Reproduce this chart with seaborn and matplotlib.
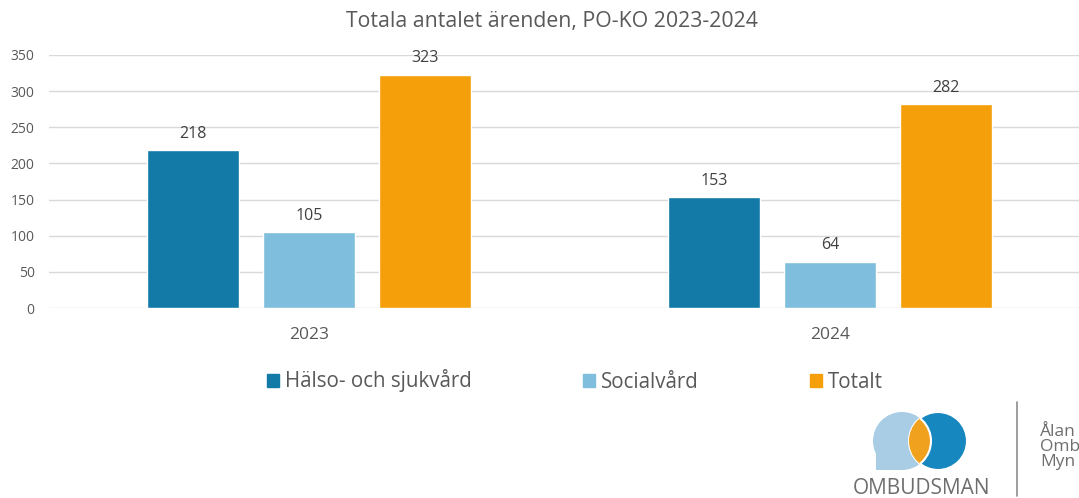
import matplotlib
matplotlib.use("Agg")
import matplotlib.pyplot as plt
import matplotlib.patches as mpatches
import numpy as np
import pandas as pd
import seaborn as sns

years = ["2023", "2024"]
categories = ["Hälso- och sjukvård", "Socialvård", "Totalt"]
halso = [218, 153]
social = [105, 64]
totalt = [323, 282]
yticks = [0, 50, 100, 150, 200, 250, 300, 350]

colors = ["#137AA8", "#7FBEDC", "#F59F0B"]
txt = "#595959"

df = pd.DataFrame({
    "year": years * 3,
    "category": [categories[0]] * 2 + [categories[1]] * 2 + [categories[2]] * 2,
    "value": halso + social + totalt,
})

sns.set_theme(style="white")
plt.rcParams["font.family"] = ["Open Sans", "DejaVu Sans"]

W, H = 1079, 498
fig = plt.figure(figsize=(W / 100, H / 100), dpi=100)
ax = fig.add_axes([48.5 / W, (H - 308) / H, 1042 / W, 253 / H])

sns.barplot(data=df, x="year", y="value", hue="category", palette=colors,
            width=0.668, gap=0.215, ax=ax, legend=False, saturation=1)

for c in ax.containers:
    ax.bar_label(c, padding=6, fontsize=11.5, color="#404040")

ax.set_ylim(0, 350)
ax.set_xlim(-0.5, 1.5)
ax.set_yticks(yticks)
ax.yaxis.grid(True, color="#D9D9D9", linewidth=1)
ax.set_axisbelow(True)
for s in ax.spines.values():
    s.set_visible(False)
ax.tick_params(axis="y", length=0, pad=10, labelsize=10, labelcolor=txt)
ax.tick_params(axis="x", length=0, pad=14, labelsize=12.5, labelcolor=txt)
ax.set_xlabel("")
ax.set_ylabel("")

fig.text(552 / W, 1 - 22 / H, "Totala antalet ärenden, PO-KO 2023-2024",
         ha="center", va="center", fontsize=15.3, color=txt)

handles = [mpatches.Patch(color=c) for c in colors]
fig.legend(handles, categories, loc="center", bbox_to_anchor=(575 / W, 1 - 381 / H),
           ncol=3, frameon=False, fontsize=14.8, handlelength=0.6, handleheight=0.6,
           handletextpad=0.28, columnspacing=5.4, labelcolor=txt)

# logo
lax = fig.add_axes([0, 0, 1, 1])
lax.set_xlim(0, W)
lax.set_ylim(H, 0)
lax.axis("off")
light = "#A8CDE4"
dark = "#1787BF"
lax.add_patch(mpatches.Circle((902, 441), 29, color=light, lw=0))
lax.add_patch(mpatches.Rectangle((876, 441), 26, 29, color=light, lw=0))
dc = mpatches.Circle((938, 441), 29, facecolor=dark, edgecolor="white", lw=1.5)
lax.add_patch(dc)
lens = mpatches.Circle((902, 441), 29, facecolor="#F0A21E", edgecolor="white", lw=1.5)
lax.add_patch(lens)
lens.set_clip_path(dc)
lax.text(922, 488, "OMBUDSMAN", ha="center", va="center", fontsize=15, color="#6E6E6E")
lax.plot([1017, 1017], [402, 496], color="#8C8C8C", lw=1.2)
lax.text(1040, 447, "Ålan\nOmb\nMyn", ha="left", va="center",
         fontsize=12.5, color="#6E6E6E", linespacing=0.9)

fig.savefig("out.png", dpi=100)
